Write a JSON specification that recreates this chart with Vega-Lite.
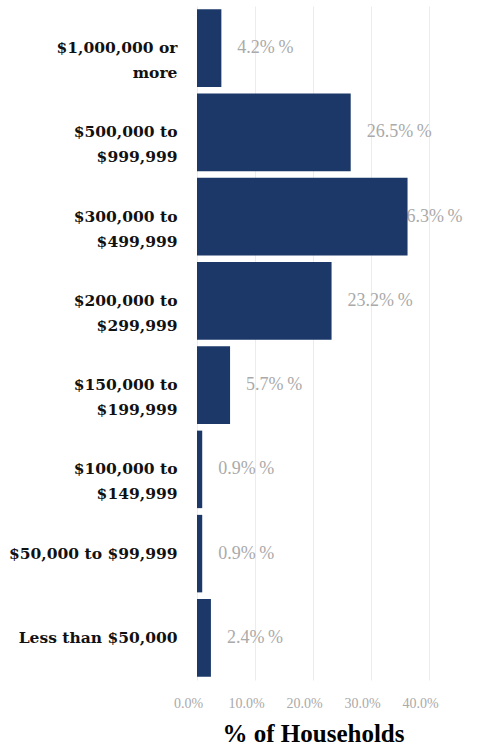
{
  "$schema": "https://vega.github.io/schema/vega-lite/v6.json",
  "width": 232,
  "height": 674,
  "autosize": {"type": "none"},
  "padding": {"left": 197, "top": 6, "right": 49, "bottom": 68},
  "background": "white",
  "view": {"stroke": null},
  "data": {
    "values": [
      {"band": "$1,000,000 or|more", "pct": 4.2},
      {"band": "$500,000 to|$999,999", "pct": 26.5},
      {"band": "$300,000 to|$499,999", "pct": 36.3},
      {"band": "$200,000 to|$299,999", "pct": 23.2},
      {"band": "$150,000 to|$199,999", "pct": 5.7},
      {"band": "$100,000 to|$149,999", "pct": 0.9},
      {"band": "$50,000 to $99,999", "pct": 0.9},
      {"band": "Less than $50,000", "pct": 2.4}
    ]
  },
  "transform": [
    {"calculate": "format(datum.pct, '.1f') + '%\u2009%'", "as": "lbl"},
    {"calculate": "min(datum.pct, 31.8)", "as": "lx"}
  ],
  "encoding": {
    "y": {
      "field": "band",
      "type": "nominal",
      "sort": null,
      "scale": {"paddingInner": 0.08, "paddingOuter": 0.04},
      "axis": {
        "title": null,
        "ticks": false,
        "domain": false,
        "labelExpr": "split(datum.label, '|')",
        "labelFont": "DejaVu Serif",
        "labelFontWeight": "bold",
        "labelFontSize": 15.5,
        "labelColor": "#111111",
        "labelPadding": 20,
        "labelLimit": 250,
        "labelLineHeight": 25
      }
    }
  },
  "layer": [
    {
      "mark": {"type": "text", "align": "left", "baseline": "middle", "dx": 16, "font": "Liberation Serif", "fontSize": 18, "color": "#aaaaaa"},
      "encoding": {
        "x": {"field": "lx", "type": "quantitative"},
        "text": {"field": "lbl", "type": "nominal"}
      }
    },
    {
      "mark": {"type": "bar", "color": "#1b3868"},
      "encoding": {
        "x": {
          "field": "pct",
          "type": "quantitative",
          "scale": {"domain": [0, 40], "nice": false},
          "axis": {
            "title": "% of Households",
            "titleFont": "Liberation Serif",
            "titleFontWeight": "bold",
            "titleFontSize": 25,
            "titleColor": "#000000",
            "titlePadding": 11,
            "values": [0, 10, 20, 30, 40],
            "labelExpr": "format(datum.value, '.1f') + '%'",
            "labelFont": "Liberation Serif",
            "labelFontSize": 14,
            "labelColor": "#aaaaaa",
            "labelPadding": 16,
            "labelFlush": false,
            "labelOffset": -9,
            "ticks": false,
            "domain": false,
            "grid": true,
            "gridColor": "#f1eaea",
            "gridWidth": 1
          }
        }
      }
    }
  ]
}
